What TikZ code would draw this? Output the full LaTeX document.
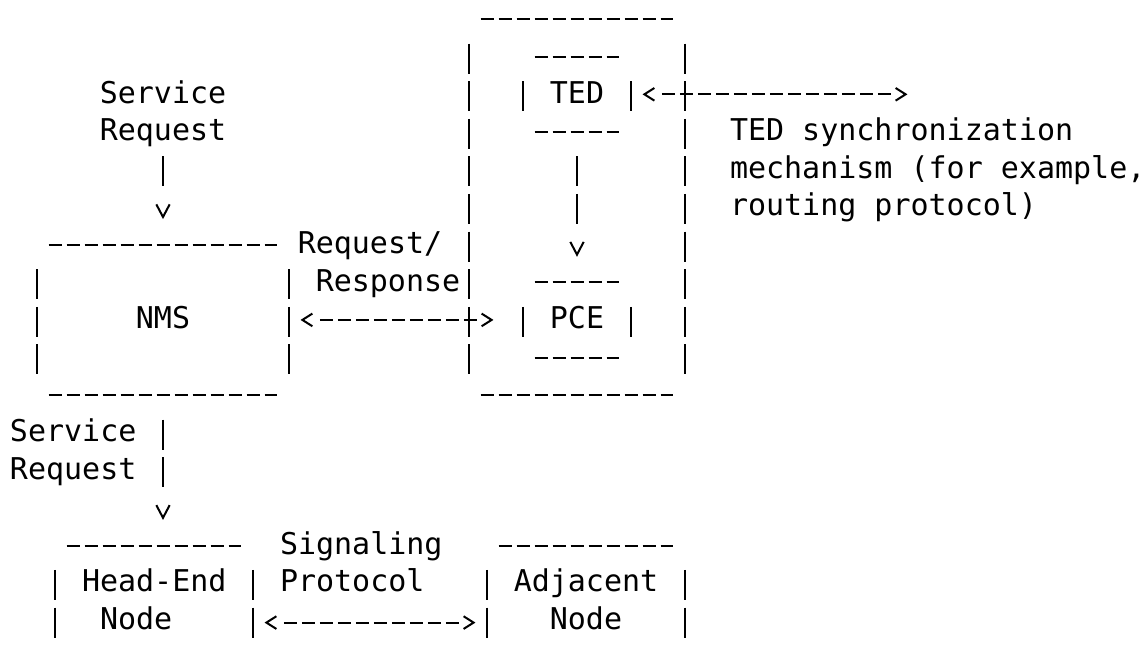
\documentclass[tikz,border=0pt]{standalone}
\usepackage{fontspec}
\setmonofont{DejaVu Sans Mono}
\usetikzlibrary{arrows.meta,calc,fit}

\newcommand\asciifont{\ttfamily\fontsize{22.5pt}{28.2pt}\selectfont}

\tikzset{
  txt/.style={font=\asciifont, inner sep=0pt, outer sep=0pt, anchor=base},
  frame/.style={inner sep=0pt, outer sep=0pt},
  dashrule/.style={line width=1.5pt, dash pattern=on 9.75pt off 3.75pt},
  barrule/.style={line width=1.5pt, dash pattern=on 22.5pt off 5.7pt},
  chev/.tip={Straight Barb[length=7.5pt,width=9.5pt]},
  vchev/.tip={Straight Barb[length=9.5pt,width=10pt]},
  % first cell keeps the tip clear, then one dash per column
  flow/.style={line width=1.5pt, chev-chev, dash pattern=on 0pt off 12.4pt #1 off 60pt},
  drop/.style={line width=1.5pt, -vchev, dash pattern=#1},
}

% box drawn the ASCII way: dashes on top (and bottom), bars on the sides
\newcommand\closedframe[1]{%
  \draw[dashrule] ($(#1.north west)+(0.64,0)$) -- ($(#1.north east)+(-0.64,0)$);
  \draw[dashrule] ($(#1.south west)+(0.64,0)$) -- ($(#1.south east)+(-0.64,0)$);
  \draw[barrule] ($(#1.north west)+(0,0.65)$) -- ($(#1.south west)+(0,-0.55)$);
  \draw[barrule] ($(#1.north east)+(0,0.65)$) -- ($(#1.south east)+(0,-0.55)$);
}
\newcommand\openframe[1]{%
  \draw[dashrule] ($(#1.north west)+(0.64,0)$) -- ($(#1.north east)+(-0.64,0)$);
  \draw[barrule] ($(#1.north west)+(0,0.65)$) -- (#1.south west);
  \draw[barrule] ($(#1.north east)+(0,0.65)$) -- (#1.south east);
}

\begin{document}
\begin{tikzpicture}[x=13.5pt, y=-28.2pt]
  \useasboundingbox (-1.0556,0.4415) rectangle (62.556,17.995);

  % boxes
  \node[frame, fit={(25,0.95) (37,10.95)}] (pcebox) {};
  \node[frame, fit={(28,1.95) (34,3.95)}] (tedbox) {};
  \node[frame, fit={(28,7.95) (34,9.95)}] (pcecore) {};
  \node[frame, fit={(1,6.95) (15,10.95)}] (nms) {};
  \node[frame, fit={(2,14.95) (13,17.4)}] (headend) {};
  \node[frame, fit={(26,14.95) (37,17.4)}] (adjnode) {};

  % labels (multi-line ones sit on the baseline of their last line)
  \node[txt] (tedlbl) at ($(tedbox.center)+(0,0.236)$) {TED};
  \node[txt] (pcelbl) at ($(pcecore.center)+(0,0.236)$) {PCE};
  \node[txt] (nmslbl) at ($(nms.center)+(0,0.236)$) {NMS};
  \node[txt, align=center] (svcreq) at (8,4.186) {Service\\Request};
  \node[txt, anchor=base west, align=left] (syncnote) at (39.5,6.186)
    {TED synchronization\\mechanism (for example,\\routing protocol)};
  \node[txt] (reqlbl) at (19.5,7.186) {Request/};
  \node[txt] (resplbl) at (20.5,8.186) {Response};
  \node[txt, anchor=base west, align=left] (svcreq2) at (-0.5,13.186) {Service\\Request};
  \node[txt, anchor=base west, align=left] (siglbl) at (14.5,16.186) {Signaling\\Protocol};
  \node[txt, anchor=base west, align=left] (headlbl) at (3.5,17.186) {Head-End\\~Node};
  \node[txt, align=center] (adjlbl) at (31.5,17.186) {Adjacent\\Node};

  \closedframe{pcebox}
  \closedframe{tedbox}
  \closedframe{pcecore}
  \closedframe{nms}
  \openframe{headend}
  \openframe{adjnode}

  % connectors
  \draw[drop={on 22.5pt off 60pt}] ($(svcreq.south)+(0,0.25)$) -- ($(nms.north)+(0,-0.68)$);
  \draw[drop={on 22.5pt off 5.7pt on 22.5pt off 60pt}]
    ($(tedbox.south)+(0,0.65)$) -- ($(pcecore.north)+(0,-0.68)$);
  \draw[drop={on 22.5pt off 5.7pt on 22.5pt off 60pt}]
    ($(nms.south)+(0,0.65)$) -- ($(nms.south |- headend.north)+(0,-0.68)$);
  \draw[flow={on 9.75pt off 3.75pt on 9.75pt off 3.75pt on 9.75pt off 3.75pt
              on 9.75pt off 3.75pt on 9.75pt off 3.75pt on 9.75pt off 3.75pt
              on 9.75pt off 3.75pt on 9.75pt off 3.75pt on 9.75pt}]
    ($(nms.east)+(0.64,0)$) -- ($(pcecore.west)+(-1.64,0)$);
  \coordinate (syncend) at (49.36,2.95);
  \draw[flow={on 9.75pt off 3.75pt on 9.75pt off 3.75pt on 9.75pt off 3.75pt
              on 9.75pt off 3.75pt on 9.75pt off 3.75pt on 9.75pt off 3.75pt
              on 9.75pt off 3.75pt on 9.75pt off 3.75pt on 9.75pt off 3.75pt
              on 9.75pt off 3.75pt on 9.75pt off 3.75pt on 9.75pt off 3.75pt
              on 9.75pt}]
    ($(tedbox.east)+(0.64,0)$) -- (syncend);
  \draw[flow={on 9.75pt off 3.75pt on 9.75pt off 3.75pt on 9.75pt off 3.75pt
              on 9.75pt off 3.75pt on 9.75pt off 3.75pt on 9.75pt off 3.75pt
              on 9.75pt off 3.75pt on 9.75pt off 3.75pt on 9.75pt off 3.75pt
              on 9.75pt}]
    ($(headend.south east)+(0.64,-0.4)$) -- ($(adjnode.south west)+(-0.64,-0.4)$);
\end{tikzpicture}
\end{document}
